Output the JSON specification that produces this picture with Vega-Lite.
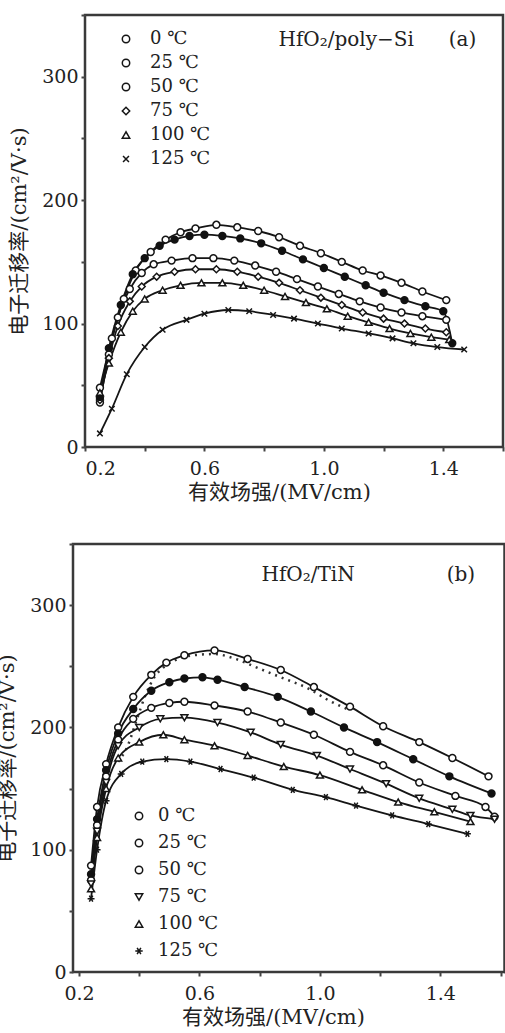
{
  "$schema": "https://vega.github.io/schema/vega-lite/v6.json",
  "padding": {"left": -5, "top": 12, "right": 0, "bottom": 0},
  "background": "white",
  "columns": 1,
  "center": true,
  "bounds": "flush",
  "spacing": 97,
  "datasets": {
    "a": [
      {"T": "0 ℃", "E": 0.25, "mu": 48}, {"T": "0 ℃", "E": 0.29, "mu": 88}, {"T": "0 ℃", "E": 0.33, "mu": 120}, {"T": "0 ℃", "E": 0.37, "mu": 143}, {"T": "0 ℃", "E": 0.42, "mu": 158}, {"T": "0 ℃", "E": 0.47, "mu": 168}, {"T": "0 ℃", "E": 0.52, "mu": 174}, {"T": "0 ℃", "E": 0.57, "mu": 177}, {"T": "0 ℃", "E": 0.64, "mu": 180}, {"T": "0 ℃", "E": 0.71, "mu": 178}, {"T": "0 ℃", "E": 0.78, "mu": 175}, {"T": "0 ℃", "E": 0.85, "mu": 170}, {"T": "0 ℃", "E": 0.92, "mu": 163}, {"T": "0 ℃", "E": 0.99, "mu": 157}, {"T": "0 ℃", "E": 1.06, "mu": 150}, {"T": "0 ℃", "E": 1.13, "mu": 143}, {"T": "0 ℃", "E": 1.19, "mu": 139}, {"T": "0 ℃", "E": 1.26, "mu": 133}, {"T": "0 ℃", "E": 1.33, "mu": 126}, {"T": "0 ℃", "E": 1.41, "mu": 119},
      {"T": "25 ℃", "E": 0.25, "mu": 40}, {"T": "25 ℃", "E": 0.28, "mu": 80}, {"T": "25 ℃", "E": 0.32, "mu": 115}, {"T": "25 ℃", "E": 0.36, "mu": 140}, {"T": "25 ℃", "E": 0.40, "mu": 153}, {"T": "25 ℃", "E": 0.45, "mu": 163}, {"T": "25 ℃", "E": 0.50, "mu": 168}, {"T": "25 ℃", "E": 0.55, "mu": 171}, {"T": "25 ℃", "E": 0.60, "mu": 172}, {"T": "25 ℃", "E": 0.66, "mu": 171}, {"T": "25 ℃", "E": 0.72, "mu": 169}, {"T": "25 ℃", "E": 0.79, "mu": 165}, {"T": "25 ℃", "E": 0.86, "mu": 159}, {"T": "25 ℃", "E": 0.93, "mu": 152}, {"T": "25 ℃", "E": 1.00, "mu": 145}, {"T": "25 ℃", "E": 1.07, "mu": 138}, {"T": "25 ℃", "E": 1.14, "mu": 131}, {"T": "25 ℃", "E": 1.20, "mu": 125}, {"T": "25 ℃", "E": 1.27, "mu": 119}, {"T": "25 ℃", "E": 1.34, "mu": 114}, {"T": "25 ℃", "E": 1.40, "mu": 110}, {"T": "25 ℃", "E": 1.43, "mu": 84},
      {"T": "50 ℃", "E": 0.25, "mu": 36}, {"T": "50 ℃", "E": 0.28, "mu": 75}, {"T": "50 ℃", "E": 0.31, "mu": 105}, {"T": "50 ℃", "E": 0.35, "mu": 128}, {"T": "50 ℃", "E": 0.39, "mu": 141}, {"T": "50 ℃", "E": 0.43, "mu": 148}, {"T": "50 ℃", "E": 0.49, "mu": 151}, {"T": "50 ℃", "E": 0.56, "mu": 153}, {"T": "50 ℃", "E": 0.63, "mu": 153}, {"T": "50 ℃", "E": 0.70, "mu": 151}, {"T": "50 ℃", "E": 0.77, "mu": 147}, {"T": "50 ℃", "E": 0.84, "mu": 142}, {"T": "50 ℃", "E": 0.91, "mu": 136}, {"T": "50 ℃", "E": 0.98, "mu": 130}, {"T": "50 ℃", "E": 1.05, "mu": 124}, {"T": "50 ℃", "E": 1.12, "mu": 118}, {"T": "50 ℃", "E": 1.19, "mu": 113}, {"T": "50 ℃", "E": 1.26, "mu": 109}, {"T": "50 ℃", "E": 1.33, "mu": 106}, {"T": "50 ℃", "E": 1.41, "mu": 103},
      {"T": "75 ℃", "E": 0.25, "mu": 38}, {"T": "75 ℃", "E": 0.28, "mu": 72}, {"T": "75 ℃", "E": 0.31, "mu": 98}, {"T": "75 ℃", "E": 0.35, "mu": 118}, {"T": "75 ℃", "E": 0.39, "mu": 130}, {"T": "75 ℃", "E": 0.44, "mu": 138}, {"T": "75 ℃", "E": 0.50, "mu": 142}, {"T": "75 ℃", "E": 0.57, "mu": 144}, {"T": "75 ℃", "E": 0.64, "mu": 144}, {"T": "75 ℃", "E": 0.71, "mu": 142}, {"T": "75 ℃", "E": 0.78, "mu": 138}, {"T": "75 ℃", "E": 0.85, "mu": 133}, {"T": "75 ℃", "E": 0.92, "mu": 127}, {"T": "75 ℃", "E": 0.99, "mu": 121}, {"T": "75 ℃", "E": 1.06, "mu": 115}, {"T": "75 ℃", "E": 1.13, "mu": 109}, {"T": "75 ℃", "E": 1.20, "mu": 104}, {"T": "75 ℃", "E": 1.27, "mu": 100}, {"T": "75 ℃", "E": 1.34, "mu": 96}, {"T": "75 ℃", "E": 1.41, "mu": 93},
      {"T": "100 ℃", "E": 0.25, "mu": 44}, {"T": "100 ℃", "E": 0.28, "mu": 68}, {"T": "100 ℃", "E": 0.32, "mu": 93}, {"T": "100 ℃", "E": 0.36, "mu": 110}, {"T": "100 ℃", "E": 0.40, "mu": 120}, {"T": "100 ℃", "E": 0.46, "mu": 127}, {"T": "100 ℃", "E": 0.52, "mu": 131}, {"T": "100 ℃", "E": 0.59, "mu": 133}, {"T": "100 ℃", "E": 0.66, "mu": 133}, {"T": "100 ℃", "E": 0.73, "mu": 131}, {"T": "100 ℃", "E": 0.80, "mu": 127}, {"T": "100 ℃", "E": 0.87, "mu": 122}, {"T": "100 ℃", "E": 0.94, "mu": 117}, {"T": "100 ℃", "E": 1.01, "mu": 112}, {"T": "100 ℃", "E": 1.08, "mu": 106}, {"T": "100 ℃", "E": 1.15, "mu": 101}, {"T": "100 ℃", "E": 1.22, "mu": 96}, {"T": "100 ℃", "E": 1.29, "mu": 92}, {"T": "100 ℃", "E": 1.36, "mu": 89}, {"T": "100 ℃", "E": 1.42, "mu": 87},
      {"T": "125 ℃", "E": 0.25, "mu": 11}, {"T": "125 ℃", "E": 0.29, "mu": 31}, {"T": "125 ℃", "E": 0.34, "mu": 59}, {"T": "125 ℃", "E": 0.40, "mu": 81}, {"T": "125 ℃", "E": 0.46, "mu": 95}, {"T": "125 ℃", "E": 0.54, "mu": 103}, {"T": "125 ℃", "E": 0.60, "mu": 108}, {"T": "125 ℃", "E": 0.68, "mu": 111}, {"T": "125 ℃", "E": 0.75, "mu": 110}, {"T": "125 ℃", "E": 0.83, "mu": 107}, {"T": "125 ℃", "E": 0.90, "mu": 104}, {"T": "125 ℃", "E": 0.98, "mu": 100}, {"T": "125 ℃", "E": 1.06, "mu": 96}, {"T": "125 ℃", "E": 1.15, "mu": 92}, {"T": "125 ℃", "E": 1.23, "mu": 88}, {"T": "125 ℃", "E": 1.30, "mu": 84}, {"T": "125 ℃", "E": 1.38, "mu": 81}, {"T": "125 ℃", "E": 1.47, "mu": 79}
    ],
    "b": [
      {"T": "0 ℃", "E": 0.24, "mu": 87}, {"T": "0 ℃", "E": 0.26, "mu": 135}, {"T": "0 ℃", "E": 0.29, "mu": 170}, {"T": "0 ℃", "E": 0.33, "mu": 200}, {"T": "0 ℃", "E": 0.38, "mu": 225}, {"T": "0 ℃", "E": 0.44, "mu": 243}, {"T": "0 ℃", "E": 0.49, "mu": 253}, {"T": "0 ℃", "E": 0.55, "mu": 259}, {"T": "0 ℃", "E": 0.65, "mu": 263}, {"T": "0 ℃", "E": 0.76, "mu": 256}, {"T": "0 ℃", "E": 0.87, "mu": 247}, {"T": "0 ℃", "E": 0.98, "mu": 233}, {"T": "0 ℃", "E": 1.10, "mu": 217}, {"T": "0 ℃", "E": 1.21, "mu": 201}, {"T": "0 ℃", "E": 1.33, "mu": 188}, {"T": "0 ℃", "E": 1.44, "mu": 175}, {"T": "0 ℃", "E": 1.56, "mu": 160},
      {"T": "25 ℃", "E": 0.24, "mu": 80}, {"T": "25 ℃", "E": 0.26, "mu": 125}, {"T": "25 ℃", "E": 0.29, "mu": 165}, {"T": "25 ℃", "E": 0.33, "mu": 195}, {"T": "25 ℃", "E": 0.38, "mu": 215}, {"T": "25 ℃", "E": 0.44, "mu": 230}, {"T": "25 ℃", "E": 0.50, "mu": 237}, {"T": "25 ℃", "E": 0.55, "mu": 240}, {"T": "25 ℃", "E": 0.61, "mu": 241}, {"T": "25 ℃", "E": 0.66, "mu": 239}, {"T": "25 ℃", "E": 0.75, "mu": 233}, {"T": "25 ℃", "E": 0.86, "mu": 225}, {"T": "25 ℃", "E": 0.97, "mu": 213}, {"T": "25 ℃", "E": 1.08, "mu": 200}, {"T": "25 ℃", "E": 1.19, "mu": 188}, {"T": "25 ℃", "E": 1.31, "mu": 174}, {"T": "25 ℃", "E": 1.43, "mu": 160}, {"T": "25 ℃", "E": 1.57, "mu": 146},
      {"T": "50 ℃", "E": 0.24, "mu": 75}, {"T": "50 ℃", "E": 0.26, "mu": 120}, {"T": "50 ℃", "E": 0.29, "mu": 160}, {"T": "50 ℃", "E": 0.33, "mu": 190}, {"T": "50 ℃", "E": 0.38, "mu": 207}, {"T": "50 ℃", "E": 0.44, "mu": 216}, {"T": "50 ℃", "E": 0.50, "mu": 220}, {"T": "50 ℃", "E": 0.55, "mu": 221}, {"T": "50 ℃", "E": 0.65, "mu": 218}, {"T": "50 ℃", "E": 0.76, "mu": 213}, {"T": "50 ℃", "E": 0.87, "mu": 204}, {"T": "50 ℃", "E": 0.98, "mu": 194}, {"T": "50 ℃", "E": 1.10, "mu": 180}, {"T": "50 ℃", "E": 1.21, "mu": 169}, {"T": "50 ℃", "E": 1.33, "mu": 155}, {"T": "50 ℃", "E": 1.45, "mu": 144}, {"T": "50 ℃", "E": 1.55, "mu": 135}, {"T": "50 ℃", "E": 1.58, "mu": 127},
      {"T": "75 ℃", "E": 0.24, "mu": 72}, {"T": "75 ℃", "E": 0.26, "mu": 115}, {"T": "75 ℃", "E": 0.29, "mu": 155}, {"T": "75 ℃", "E": 0.33, "mu": 185}, {"T": "75 ℃", "E": 0.40, "mu": 200}, {"T": "75 ℃", "E": 0.47, "mu": 207}, {"T": "75 ℃", "E": 0.55, "mu": 208}, {"T": "75 ℃", "E": 0.66, "mu": 204}, {"T": "75 ℃", "E": 0.77, "mu": 196}, {"T": "75 ℃", "E": 0.87, "mu": 186}, {"T": "75 ℃", "E": 0.99, "mu": 177}, {"T": "75 ℃", "E": 1.10, "mu": 166}, {"T": "75 ℃", "E": 1.22, "mu": 154}, {"T": "75 ℃", "E": 1.33, "mu": 142}, {"T": "75 ℃", "E": 1.44, "mu": 133}, {"T": "75 ℃", "E": 1.50, "mu": 128}, {"T": "75 ℃", "E": 1.58, "mu": 125},
      {"T": "100 ℃", "E": 0.24, "mu": 68}, {"T": "100 ℃", "E": 0.26, "mu": 110}, {"T": "100 ℃", "E": 0.29, "mu": 150}, {"T": "100 ℃", "E": 0.33, "mu": 175}, {"T": "100 ℃", "E": 0.40, "mu": 188}, {"T": "100 ℃", "E": 0.48, "mu": 194}, {"T": "100 ℃", "E": 0.55, "mu": 190}, {"T": "100 ℃", "E": 0.65, "mu": 185}, {"T": "100 ℃", "E": 0.76, "mu": 177}, {"T": "100 ℃", "E": 0.88, "mu": 168}, {"T": "100 ℃", "E": 1.00, "mu": 161}, {"T": "100 ℃", "E": 1.14, "mu": 149}, {"T": "100 ℃", "E": 1.26, "mu": 139}, {"T": "100 ℃", "E": 1.38, "mu": 131}, {"T": "100 ℃", "E": 1.50, "mu": 123},
      {"T": "125 ℃", "E": 0.24, "mu": 60}, {"T": "125 ℃", "E": 0.26, "mu": 100}, {"T": "125 ℃", "E": 0.29, "mu": 140}, {"T": "125 ℃", "E": 0.34, "mu": 162}, {"T": "125 ℃", "E": 0.41, "mu": 172}, {"T": "125 ℃", "E": 0.49, "mu": 174}, {"T": "125 ℃", "E": 0.57, "mu": 172}, {"T": "125 ℃", "E": 0.67, "mu": 166}, {"T": "125 ℃", "E": 0.78, "mu": 159}, {"T": "125 ℃", "E": 0.91, "mu": 149}, {"T": "125 ℃", "E": 1.02, "mu": 143}, {"T": "125 ℃", "E": 1.12, "mu": 136}, {"T": "125 ℃", "E": 1.24, "mu": 128}, {"T": "125 ℃", "E": 1.36, "mu": 121}, {"T": "125 ℃", "E": 1.49, "mu": 113}
    ],
    "bdots": [
      {"E": 0.33, "mu": 172}, {"E": 0.36, "mu": 184}, {"E": 0.39, "mu": 205}, {"E": 0.42, "mu": 226}, {"E": 0.45, "mu": 241}, {"E": 0.48, "mu": 249}, {"E": 0.52, "mu": 255}, {"E": 0.58, "mu": 259}, {"E": 0.65, "mu": 260}, {"E": 0.72, "mu": 256}, {"E": 0.80, "mu": 248}, {"E": 0.87, "mu": 241}, {"E": 0.96, "mu": 232}, {"E": 1.03, "mu": 222}, {"E": 1.10, "mu": 214}
    ],
    "labA": [
      {"E": 0.848, "mu": 330, "txt": "HfO₂/poly−Si"},
      {"E": 1.418, "mu": 330, "txt": "(a)"}
    ],
    "labB": [
      {"E": 0.806, "mu": 325, "txt": "HfO₂/TiN"},
      {"E": 1.421, "mu": 325, "txt": "(b)"}
    ]
  },
  "concat": [
    {
      "width": 418,
      "height": 432,
      "layer": [
        {
          "data": {"name": "a"},
          "mark": {"type": "line", "interpolate": "monotone", "color": "#151515", "strokeWidth": 1.8},
          "encoding": {
            "x": {"field": "E", "type": "quantitative", "scale": {"domain": [0.2, 1.6], "nice": false, "zero": false},
                  "axis": {"values": [0.2, 0.4, 0.6, 0.8, 1.0, 1.2, 1.4, 1.6], "format": ".1f", "labelExpr": "(round(datum.value*10) % 4 == 2) ? datum.label : ''", "title": "有效场强/(MV/cm)", "titleX": 194}},
            "y": {"field": "mu", "type": "quantitative", "scale": {"domain": [0, 350], "nice": false},
                  "axis": {"values": [0, 50, 100, 150, 200, 250, 300, 350], "labelExpr": "datum.value % 100 == 0 ? datum.label : ''", "title": "电子迁移率/(cm²/V·s)", "titlePadding": 12}},
            "detail": {"field": "T"}
          }
        },
        {
          "data": {"name": "a"},
          "mark": {"type": "point", "filled": false, "fill": "white", "strokeWidth": 1.5, "size": 48, "opacity": 1},
          "encoding": {
            "x": {"field": "E", "type": "quantitative"},
            "y": {"field": "mu", "type": "quantitative"},
            "color": {"field": "T", "type": "nominal", "title": null,
                      "scale": {"domain": ["0 ℃", "25 ℃", "50 ℃", "75 ℃", "100 ℃", "125 ℃"], "range": ["#151515", "#151515", "#151515", "#151515", "#151515", "#151515"]},
                      "legend": {"orient": "none", "legendX": 32, "legendY": 15, "labelOffset": 15, "rowPadding": 6}},
            "shape": {"field": "T", "type": "nominal", "title": null,
                      "scale": {"domain": ["0 ℃", "25 ℃", "50 ℃", "75 ℃", "100 ℃", "125 ℃"], "range": ["circle", "circle", "circle", "diamond", "triangle-up", "M-0.8,-0.8L0.8,0.8M-0.8,0.8L0.8,-0.8"]},
                      "legend": {"orient": "none", "legendX": 32, "legendY": 15, "labelOffset": 15, "rowPadding": 6}}
          }
        },
        {
          "data": {"name": "a"},
          "transform": [{"filter": "datum.T === '25 ℃'"}],
          "mark": {"type": "point", "filled": true, "color": "#111", "size": 48, "opacity": 1},
          "encoding": {
            "x": {"field": "E", "type": "quantitative"},
            "y": {"field": "mu", "type": "quantitative"}
          }
        },
        {
          "data": {"name": "labA"},
          "mark": {"type": "text", "align": "left", "baseline": "middle", "font": "DejaVu Serif", "fontSize": 20, "color": "#222"},
          "encoding": {
            "x": {"field": "E", "type": "quantitative"},
            "y": {"field": "mu", "type": "quantitative"},
            "text": {"field": "txt"}
          }
        }
      ]
    },
    {
      "width": 442,
      "height": 428,
      "layer": [
        {
          "data": {"name": "bdots"},
          "mark": {"type": "line", "interpolate": "monotone", "color": "#333", "strokeWidth": 2.5, "strokeDash": [2, 5]},
          "encoding": {
            "x": {"field": "E", "type": "quantitative", "scale": {"domain": [0.18, 1.648], "nice": false, "zero": false},
                  "axis": {"values": [0.2, 0.4, 0.6, 0.8, 1.0, 1.2, 1.4, 1.6], "format": ".1f", "labelExpr": "(round(datum.value*10) % 4 == 2) ? datum.label : ''", "title": "有效场强/(MV/cm)", "titleX": 200}},
            "y": {"field": "mu", "type": "quantitative", "scale": {"domain": [0, 350], "nice": false},
                  "axis": {"values": [0, 50, 100, 150, 200, 250, 300, 350], "labelExpr": "datum.value % 100 == 0 ? datum.label : ''", "title": "电子迁移率/(cm²/V·s)", "titlePadding": 12}}
          }
        },
        {
          "data": {"name": "b"},
          "mark": {"type": "line", "interpolate": "monotone", "color": "#151515", "strokeWidth": 1.8},
          "encoding": {
            "x": {"field": "E", "type": "quantitative"},
            "y": {"field": "mu", "type": "quantitative"},
            "detail": {"field": "T"}
          }
        },
        {
          "data": {"name": "b"},
          "mark": {"type": "point", "filled": false, "fill": "white", "strokeWidth": 1.5, "size": 48, "opacity": 1},
          "encoding": {
            "x": {"field": "E", "type": "quantitative"},
            "y": {"field": "mu", "type": "quantitative"},
            "color": {"field": "T", "type": "nominal", "title": null,
                      "scale": {"domain": ["0 ℃", "25 ℃", "50 ℃", "75 ℃", "100 ℃", "125 ℃"], "range": ["#151515", "#151515", "#151515", "#151515", "#151515", "#151515"]},
                      "legend": {"orient": "none", "legendX": 57, "legendY": 263, "labelOffset": 10, "rowPadding": 9}},
            "shape": {"field": "T", "type": "nominal", "title": null,
                      "scale": {"domain": ["0 ℃", "25 ℃", "50 ℃", "75 ℃", "100 ℃", "125 ℃"], "range": ["circle", "circle", "circle", "triangle-down", "triangle-up", "M-1,0L1,0M-0.5,-0.87L0.5,0.87M-0.5,0.87L0.5,-0.87"]},
                      "legend": {"orient": "none", "legendX": 57, "legendY": 263, "labelOffset": 10, "rowPadding": 9}}
          }
        },
        {
          "data": {"name": "b"},
          "transform": [{"filter": "datum.T === '25 ℃'"}],
          "mark": {"type": "point", "filled": true, "color": "#111", "size": 48, "opacity": 1},
          "encoding": {
            "x": {"field": "E", "type": "quantitative"},
            "y": {"field": "mu", "type": "quantitative"}
          }
        },
        {
          "data": {"name": "labB"},
          "mark": {"type": "text", "align": "left", "baseline": "middle", "font": "DejaVu Serif", "fontSize": 20, "color": "#222"},
          "encoding": {
            "x": {"field": "E", "type": "quantitative"},
            "y": {"field": "mu", "type": "quantitative", "axis": {"orient": "right", "offset": -11, "values": [0, 50, 100, 150, 200, 250, 300, 350], "labels": false, "tickSize": 4, "domain": true, "domainColor": "#3a3a3a", "domainWidth": 2.5, "title": null}},
            "text": {"field": "txt"}
          }
        }
      ],
      "resolve": {"axis": {"y": "independent"}}
    }
  ],
  "resolve": {"scale": {"shape": "independent", "color": "independent", "x": "independent", "y": "independent"}},
  "config": {
    "font": "DejaVu Serif",
    "view": {"stroke": "#3a3a3a", "strokeWidth": 2.5},
    "axis": {
      "domain": false, "grid": false, "ticks": true, "tickSize": 4, "tickColor": "#444", "tickWidth": 2,
      "labelFont": "DejaVu Serif", "labelFontSize": 19, "labelColor": "#222", "labelPadding": 3,
      "titleFont": "DejaVu Serif, Noto Sans CJK SC", "titleFontSize": 21, "titleFontWeight": "normal", "titleColor": "#222"
    },
    "axisX": {"labelPadding": 8, "titlePadding": 3},
    "legend": {
      "labelFont": "DejaVu Serif, DejaVu Sans", "labelFontSize": 18, "labelColor": "#222",
      "symbolSize": 55, "symbolStrokeWidth": 1.5, "padding": 0
    }
  }
}
